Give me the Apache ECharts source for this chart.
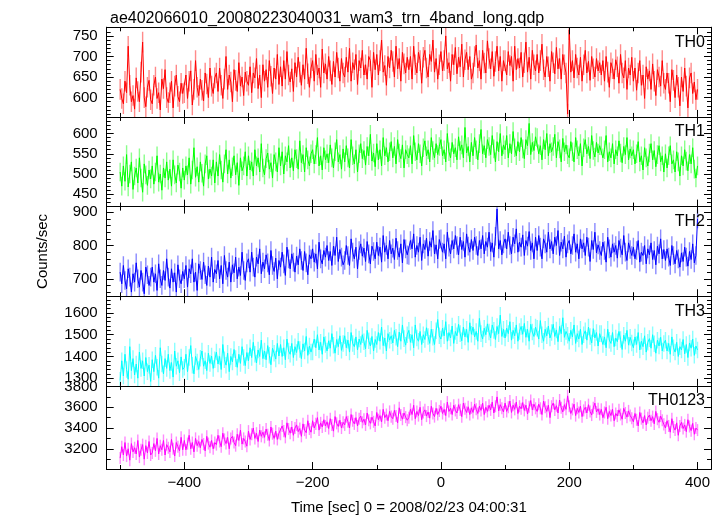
<!DOCTYPE html>
<html><head><meta charset="utf-8">
<script src="https://cdn.jsdelivr.net/npm/echarts@6/dist/echarts.min.js"></script>
<style>html,body{margin:0;padding:0;background:#fff}#c{width:723px;height:516px}</style>
</head><body><div id="c"></div>
<script>
// ---------- data ----------
const chartTitle = "ae402066010_20080223040031_wam3_trn_4band_long.qdp";
const xTitle = "Time [sec] 0 = 2008/02/23 04:00:31";
const yTitle = "Counts/sec";
const binStart = -500;   // time of first bin (s)
const binWidth = 2.5;    // bin width (s)
const bandNames = ["TH0", "TH1", "TH2", "TH3", "TH0123"];

const th0 = [
620,598,585,640,612,725,630,590,605,572,
648,615,590,662,735,600,578,625,642,595,
585,630,650,598,612,570,645,622,668,600,
588,612,640,575,628,655,603,590,635,610,
612,655,598,640,665,582,620,690,625,605,
645,618,592,660,633,600,672,628,610,648,
660,615,672,630,598,645,700,620,655,638,
590,668,642,615,685,628,650,605,662,640,
630,675,612,660,648,695,622,655,600,680,
640,668,625,690,652,610,672,645,705,632,
675,628,690,645,712,655,638,670,615,685,
650,698,662,630,680,645,720,658,625,672,
690,640,705,655,672,625,718,660,682,645,
700,665,632,688,650,710,672,640,695,660,
650,698,662,720,640,685,668,705,632,690,
672,715,655,680,645,700,690,625,710,668,
705,655,690,740,662,678,630,700,672,715,
688,650,725,670,695,640,710,682,660,698,
668,700,645,725,680,660,710,690,635,698,
715,672,650,705,688,740,662,695,645,680,
712,665,690,750,670,685,640,705,680,722,
658,698,675,730,650,692,710,668,700,645,
660,700,728,672,690,645,715,684,660,738,
695,670,712,652,688,725,665,700,640,690,
690,655,712,678,700,640,725,668,695,672,
710,650,685,735,662,698,645,715,680,665,
705,660,690,730,668,650,700,675,640,712,
685,658,722,670,695,645,705,680,660,560,
765,662,690,648,705,672,655,698,640,680,
715,660,688,642,700,670,650,695,665,685,
655,690,640,700,662,625,685,670,645,692,
675,635,705,660,648,690,620,672,655,698,
640,672,618,660,690,630,655,598,675,645,
665,620,682,640,605,668,650,628,690,635,
620,660,635,590,668,642,600,655,625,580,
650,615,672,628,575,648,660,610,638,595,
620];
const th1 = [
505,470,520,482,548,468,500,530,462,495,
515,478,540,490,455,525,498,472,510,488,
520,475,505,545,480,500,460,515,490,530,
485,512,470,535,498,478,522,505,465,515,
485,520,498,540,475,510,565,492,518,480,
530,502,470,525,545,488,512,495,535,478,
530,495,548,510,480,525,560,500,535,490,
518,545,498,528,472,540,508,520,555,495,
545,510,530,495,560,520,540,505,575,515,
498,538,552,512,528,490,548,530,505,565,
520,555,500,545,530,570,515,540,508,560,
538,512,582,528,548,505,565,535,520,550,
560,525,548,590,520,545,510,565,535,550,
528,572,540,515,555,585,530,548,512,562,
530,570,540,515,585,545,525,560,505,550,
575,538,558,522,568,545,598,532,552,518,
575,535,560,520,590,545,565,530,555,580,
540,568,525,585,552,538,572,515,560,548,
540,570,525,595,555,535,575,550,520,565,
582,545,560,530,590,558,540,575,548,568,
585,545,560,530,600,555,540,578,550,565,
535,592,558,572,540,615,552,568,530,578,
545,590,560,535,575,610,550,570,540,585,
568,548,595,562,530,580,555,600,545,572,
560,595,540,575,550,605,565,545,580,555,
590,562,538,585,570,625,548,578,558,592,
590,550,570,535,585,560,600,545,575,555,
568,598,540,580,562,530,588,555,572,548,
540,580,555,530,590,560,545,575,520,565,
585,550,568,538,595,558,542,578,552,570,
570,540,560,595,530,555,540,575,525,560,
545,582,552,528,568,548,590,535,562,545,
560,525,550,580,530,545,510,565,540,520,
552,575,535,558,518,548,570,530,545,505,
550,515,545,570,525,535,505,555,530,495,
545,520,560,532,508,548,525,565,512,490,
520];
const th2 = [
720,685,740,695,670,730,705,660,715,690,
748,700,675,725,690,655,735,712,680,705,
735,690,715,665,745,700,680,725,695,760,
705,672,730,690,718,660,742,700,685,722,
700,740,675,730,715,760,690,720,665,745,
725,698,750,712,680,738,705,765,690,728,
715,755,700,740,685,770,725,705,750,690,
742,718,765,700,735,710,780,725,695,748,
760,720,780,735,705,765,745,790,715,750,
730,772,748,712,785,740,722,762,700,755,
735,780,745,710,795,760,730,775,750,720,
768,742,790,755,725,782,748,712,772,760,
790,750,775,730,810,760,745,785,765,800,
755,782,740,798,770,825,752,788,765,742,
755,800,770,740,820,780,760,795,730,785,
805,768,792,752,812,775,745,798,782,760,
810,770,795,750,830,780,800,760,815,775,
792,758,822,785,765,805,748,818,790,772,
770,815,790,835,765,800,780,825,755,805,
788,822,768,812,795,845,775,802,760,818,
820,780,805,760,840,795,775,815,790,830,
800,772,825,788,812,765,835,798,780,818,
785,825,800,770,815,790,830,775,812,795,
840,782,808,765,828,910,790,815,772,805,
820,790,840,800,775,825,805,850,780,810,
795,832,770,815,798,842,785,808,760,825,
785,830,795,760,820,805,780,840,790,812,
775,825,800,845,770,810,790,828,765,805,
815,775,800,835,780,805,760,820,790,808,
770,825,795,752,815,788,840,778,802,785,
770,810,785,750,825,790,765,805,780,800,
762,815,792,772,830,780,755,808,788,770,
795,760,785,815,750,780,770,800,745,790,
772,808,758,785,742,798,775,820,760,788,
755,790,765,740,800,770,745,785,760,735,
778,752,795,765,738,782,758,805,748,770,
880];
const th3 = [
1290,1380,1310,1410,1340,1295,1445,1335,1390,1315,
1365,1300,1420,1345,1380,1310,1395,1330,1360,1285,
1385,1330,1405,1350,1300,1440,1365,1320,1390,1345,
1410,1335,1372,1305,1425,1355,1380,1325,1398,1340,
1350,1410,1330,1395,1450,1360,1320,1400,1375,1340,
1392,1425,1355,1380,1335,1415,1368,1402,1345,1385,
1420,1365,1400,1340,1455,1385,1360,1415,1330,1400,
1375,1432,1390,1350,1410,1368,1445,1395,1358,1418,
1380,1440,1395,1465,1410,1370,1430,1400,1475,1390,
1425,1385,1450,1405,1362,1438,1415,1388,1460,1402,
1455,1400,1440,1385,1480,1425,1410,1460,1395,1445,
1418,1470,1432,1390,1458,1425,1492,1405,1448,1420,
1420,1480,1440,1500,1430,1465,1410,1490,1455,1425,
1472,1438,1505,1452,1415,1478,1445,1495,1428,1460,
1495,1440,1475,1420,1510,1460,1445,1490,1430,1480,
1455,1500,1468,1435,1520,1472,1448,1492,1425,1478,
1455,1510,1470,1535,1450,1485,1425,1505,1475,1495,
1462,1520,1488,1445,1512,1470,1545,1482,1452,1500,
1520,1465,1500,1440,1545,1485,1470,1515,1455,1500,
1478,1532,1492,1460,1525,1488,1455,1518,1570,1495,
1480,1530,1495,1560,1470,1510,1485,1540,1460,1515,
1495,1548,1505,1472,1535,1490,1525,1465,1555,1502,
1535,1490,1515,1470,1575,1505,1480,1530,1500,1550,
1512,1485,1545,1520,1478,1538,1505,1590,1492,1525,
1485,1530,1505,1560,1475,1520,1495,1545,1470,1515,
1538,1502,1552,1488,1525,1470,1548,1512,1492,1535,
1530,1480,1565,1500,1470,1525,1495,1540,1485,1510,
1548,1492,1522,1468,1538,1505,1578,1488,1515,1498,
1470,1520,1490,1545,1460,1505,1480,1525,1455,1500,
1518,1475,1535,1492,1462,1528,1485,1510,1448,1505,
1505,1455,1490,1440,1525,1475,1460,1510,1445,1485,
1468,1515,1478,1432,1498,1470,1520,1452,1488,1462,
1440,1490,1455,1510,1430,1470,1445,1495,1420,1465,
1482,1438,1500,1458,1415,1475,1448,1488,1425,1460,
1475,1425,1460,1410,1490,1440,1420,1465,1400,1445,
1430,1478,1412,1455,1395,1462,1438,1480,1405,1448,
1430];
const th0123 = [
3110,3220,3140,3260,3130,3200,3090,3250,3170,3210,
3150,3280,3120,3190,3240,3100,3230,3160,3270,3140,
3160,3250,3180,3300,3150,3230,3190,3280,3140,3240,
3210,3170,3290,3200,3130,3260,3220,3180,3310,3190,
3280,3190,3250,3330,3200,3260,3170,3300,3230,3270,
3210,3290,3245,3180,3320,3250,3215,3280,3200,3260,
3240,3330,3270,3220,3350,3290,3250,3310,3200,3300,
3320,3260,3230,3340,3280,3380,3245,3300,3270,3225,
3370,3290,3340,3400,3300,3350,3270,3380,3320,3360,
3310,3390,3335,3280,3410,3345,3300,3370,3290,3350,
3340,3420,3370,3310,3450,3390,3350,3410,3330,3400,
3430,3365,3395,3320,3440,3380,3355,3470,3390,3360,
3470,3400,3440,3500,3380,3450,3410,3480,3420,3460,
3395,3490,3430,3370,3510,3445,3415,3475,3400,3455,
3430,3510,3460,3400,3530,3470,3440,3500,3420,3490,
3515,3455,3485,3430,3545,3475,3445,3505,3460,3420,
3550,3480,3520,3460,3580,3500,3530,3470,3560,3510,
3490,3570,3515,3450,3595,3525,3485,3545,3505,3475,
3500,3580,3530,3620,3490,3560,3520,3600,3480,3550,
3575,3515,3555,3495,3610,3540,3510,3590,3530,3565,
3610,3540,3580,3520,3650,3560,3590,3530,3620,3570,
3545,3625,3575,3510,3640,3585,3550,3605,3530,3595,
3550,3630,3580,3540,3610,3570,3640,3530,3600,3560,
3620,3575,3650,3545,3610,3700,3565,3625,3590,3555,
3640,3560,3600,3660,3550,3620,3580,3650,3540,3610,
3585,3645,3570,3620,3535,3605,3665,3575,3630,3590,
3560,3630,3590,3530,3660,3600,3560,3620,3500,3610,
3640,3575,3615,3545,3670,3595,3555,3625,3580,3710,
3610,3540,3580,3630,3520,3590,3550,3610,3510,3570,
3600,3545,3625,3560,3525,3595,3640,3555,3585,3530,
3580,3500,3550,3600,3490,3560,3520,3580,3470,3540,
3515,3575,3530,3485,3590,3545,3505,3565,3520,3495,
3460,3540,3480,3420,3550,3490,3450,3520,3430,3500,
3525,3470,3510,3440,3560,3485,3455,3515,3475,3435,
3400,3470,3420,3360,3490,3410,3380,3450,3330,3420,
3455,3395,3430,3365,3480,3415,3375,3445,3340,3400,
3380];
// typical 1-sigma error bar half-length per band (counts/sec)
const bandErrors = [25, 23, 28, 38, 58];

const xMajorTicks = [-400, -200, 0, 200, 400];
const xMinorTicks = [-500, -300, -100, 100, 300];
const yMajorTicks = [
  [600, 650, 700, 750],
  [450, 500, 550, 600],
  [700, 800, 900],
  [1300, 1400, 1500, 1600],
  [3200, 3400, 3600, 3800]
];
const yMinorStep = [10, 10, 20, 20, 100];
const yRanges = [[553, 771], [419.5, 641], [647.5, 917], [1264.5, 1677], [3005, 3806]];
const xRange = [-521, 421];

// ---------- styles / layout ----------
const seriesValues = [th0, th1, th2, th3, th0123];
const lineColors = ["#ff0000", "#00ff00", "#0000ff", "#00ffff", "#ff00ff"];
const errColors  = ["#ff8a8a", "#8aff8a", "#8a8aff", "#8affff", "#ff8aff"];
const FONT = "Liberation Sans";
const gridTop = 27.3, gridH = 89.65, gridLeft = 106.7, gridRight = 12;
const MAJOR_LEN = 7, MINOR_LEN = 4;

const fmtNum = v => String(v).replace('-', '\u2212');

function minorList(range, step, majors) {
  const out = [];
  const s = Math.ceil(range[0] / step) * step;
  for (let v = s; v <= range[1]; v += step) if (majors.indexOf(v) < 0) out.push(v);
  return out;
}

const grids = [], xAxes = [], yAxes = [], series = [], titles = [];
titles.push({text: chartTitle, left: 105, top: 6,
  textStyle: {fontFamily: FONT, fontSize: 16, fontWeight: 'normal', color: '#000'}});

for (let g = 0; g < 5; g++) {
  grids.push({left: gridLeft, right: gridRight, top: gridTop + g * gridH, height: gridH, containLabel: false});
  const last = g === 4;
  const baseX = xAxes.length, baseY = yAxes.length;
  const minors = minorList(yRanges[g], yMinorStep[g], yMajorTicks[g]);
  const mkX = (pos, ticks, len, showLabel) => ({
    type: 'value', gridIndex: g, position: pos, min: xRange[0], max: xRange[1], z: 5,
    axisLine: {show: true, onZero: false, lineStyle: {color: '#000', width: 1}},
    splitLine: {show: false},
    axisTick: {show: true, inside: true, length: len, customValues: ticks, lineStyle: {color: '#000', width: 1}},
    axisLabel: {show: showLabel, customValues: xMajorTicks, formatter: fmtNum, color: '#000',
      fontSize: 15, fontFamily: FONT, margin: 6},
    name: showLabel ? xTitle : '', nameLocation: 'middle', nameGap: 31,
    nameTextStyle: {fontSize: 15, fontFamily: FONT, color: '#000'}
  });
  xAxes.push(mkX('bottom', xMajorTicks, MAJOR_LEN, last));
  xAxes.push(mkX('top', xMajorTicks, MAJOR_LEN, false));
  xAxes.push(mkX('bottom', xMinorTicks, MINOR_LEN, false));
  xAxes.push(mkX('top', xMinorTicks, MINOR_LEN, false));
  const mkY = (pos, ticks, len, showLabel, withName) => ({
    type: 'value', gridIndex: g, position: pos, min: yRanges[g][0], max: yRanges[g][1], z: 5,
    axisLine: {show: true, onZero: false, lineStyle: {color: '#000', width: 1}},
    splitLine: {show: false},
    axisTick: {show: true, inside: true, length: len, customValues: ticks, lineStyle: {color: '#000', width: 1}},
    axisLabel: {show: showLabel, customValues: yMajorTicks[g], formatter: fmtNum, color: '#000',
      fontSize: 15, fontFamily: FONT, margin: 9},
    name: withName ? yTitle : '', nameLocation: 'middle', nameRotate: 90, nameGap: 56,
    nameTextStyle: {fontSize: 15, fontFamily: FONT, color: '#000'}
  });
  yAxes.push(mkY('left', yMajorTicks[g], MAJOR_LEN, true, g === 2));
  yAxes.push(mkY('right', yMajorTicks[g], MAJOR_LEN, false, false));
  yAxes.push(mkY('left', minors, MINOR_LEN, false, false));
  yAxes.push(mkY('right', minors, MINOR_LEN, false, false));

  const pts = seriesValues[g].map((v, i) => [binStart + i * binWidth, v]);
  const err = bandErrors[g];
  const ec = errColors[g];
  series.push({
    type: 'custom', xAxisIndex: baseX, yAxisIndex: baseY, clip: true, silent: true, animation: false,
    data: pts,
    renderItem: (params, api) => {
      const x = api.value(0), v = api.value(1);
      const p1 = api.coord([x, v - err]), p2 = api.coord([x, v + err]);
      return {type: 'line', shape: {x1: p1[0], y1: p1[1], x2: p2[0], y2: p2[1]},
        style: {stroke: ec, lineWidth: 1.4}};
    }
  });
  series.push({
    type: 'line', xAxisIndex: baseX, yAxisIndex: baseY, data: pts, showSymbol: false,
    clip: true, animation: false, silent: true,
    lineStyle: {color: lineColors[g], width: 1}
  });

  titles.push({text: bandNames[g], right: 13, top: gridTop + g * gridH + 2,
    textStyle: {fontFamily: FONT, fontSize: 16, fontWeight: 'normal', color: '#000'}});
}

const chart = echarts.init(document.getElementById('c'), null, {renderer: 'canvas'});
chart.setOption({
  backgroundColor: '#fff', animation: false,
  title: titles, grid: grids, xAxis: xAxes, yAxis: yAxes, series: series
});
</script></body></html>
